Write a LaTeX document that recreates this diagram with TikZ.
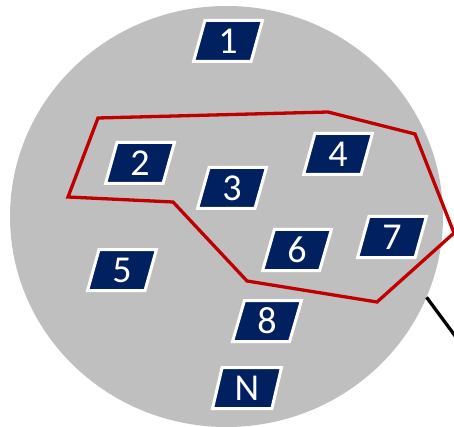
\documentclass[tikz,border=0pt]{standalone}
\usepackage{fontspec}
\setmainfont{Carlito}
\usetikzlibrary{shapes.geometric}
\definecolor{navy}{HTML}{002060}
\definecolor{setgray}{HTML}{BFBFBF}
\definecolor{hullred}{HTML}{C00000}
\tikzset{
  item/.style={trapezium, trapezium left angle=79, trapezium right angle=101,
    trapezium stretches=true, minimum width=69pt, minimum height=41pt,
    fill=navy, draw=white, line width=3pt, text=white, inner sep=0pt,
    font=\fontsize{38}{38}\selectfont},
  hull/.style={draw=hullred, line width=3.3pt, line join=miter},
  link/.style={draw=black, line width=3.3pt}
}
\begin{document}
\begin{tikzpicture}[x=1pt,y=-1pt]
\useasboundingbox (0,0) rectangle (454,427);
\clip (0,0) rectangle (454,427);
\node[ellipse, fill=setgray, minimum width=433pt, minimum height=421pt, inner sep=0pt] (set) at (226.5,216.5) {};
\coordinate (out) at (470,356);
\draw[link] (set.-22.5) -- (out);
\node[item] (b1) at (228,41) {1};
\node[item] (b2) at (140,163) {2};
\node[item] (b3) at (232,188) {3};
\node[item] (b4) at (338,154) {4};
\node[item] (b5) at (122,270) {5};
\node[item] (b6) at (297,250) {6};
\node[item] (b7) at (392,237) {7};
\node[item] (b8) at (267,321) {8};
\node[item] (bN) at (247,388) {N};
\draw[hull] (98,118) -- (328,112) -- (415,134) -- (454,233) -- (377,302) -- (247,281) -- (173,202) -- (68,197) -- cycle;
\end{tikzpicture}
\end{document}
